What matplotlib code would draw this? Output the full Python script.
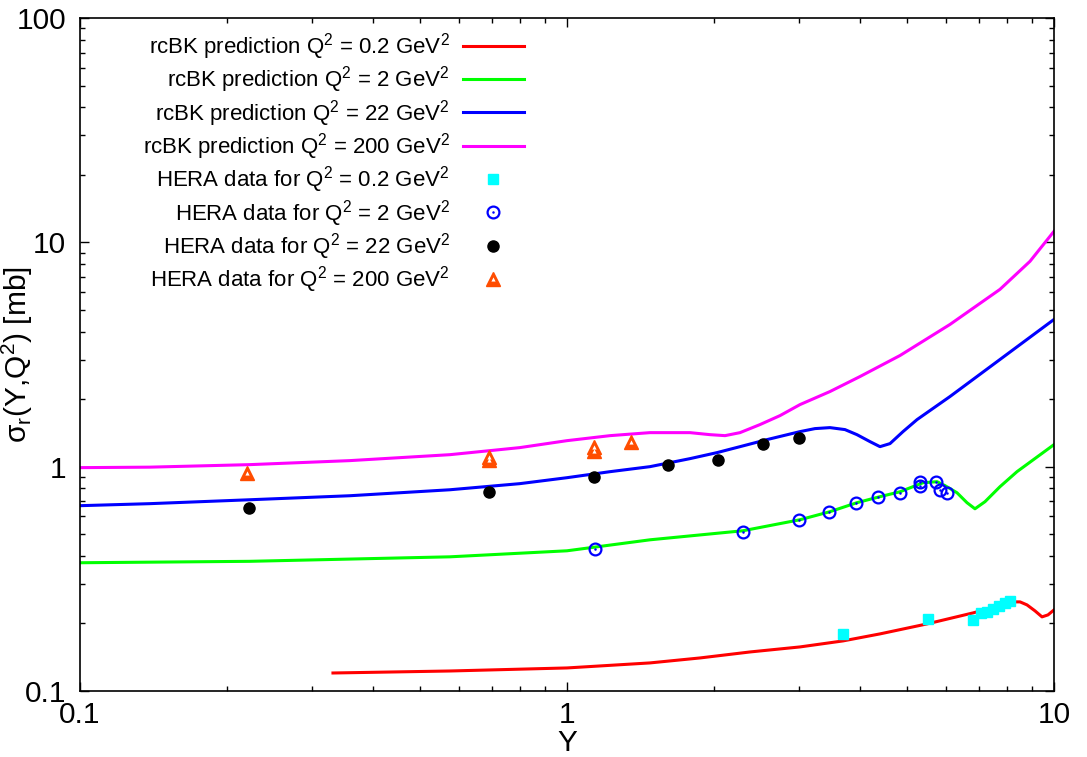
import matplotlib
matplotlib.use("Agg")
import matplotlib.pyplot as plt
from matplotlib.legend_handler import HandlerTuple

plt.rcParams['font.family'] = ['Liberation Sans', 'DejaVu Sans']
plt.rcParams['mathtext.fontset'] = 'custom'
plt.rcParams['mathtext.rm'] = 'Liberation Sans'
plt.rcParams['mathtext.it'] = 'Liberation Sans:italic'

# ---- rcBK prediction curves (Y, sigma_r in mb) ----
Y_02 = [0.3307, 0.575, 1.0, 1.48, 1.876, 2.376, 3.009, 3.687, 4.392, 5.486, 6.82, 7.566,
        8.237, 8.516, 8.802, 9.141, 9.449, 9.721, 10.0]
S_02 = [0.1203, 0.1228, 0.1267, 0.1334, 0.1404, 0.1493, 0.1572, 0.1672, 0.1797, 0.1991, 0.2229, 0.2371,
        0.2496, 0.2496, 0.2420, 0.2276, 0.2140, 0.2184, 0.2299]

Y_2 = [0.1, 0.223, 0.575, 1.0, 1.48, 2.298, 3.009, 3.467, 3.939, 4.392, 4.829, 5.383, 5.753,
       5.975, 6.322, 6.627, 6.882, 7.216, 7.745, 8.395, 10.0]
S_2 = [0.373, 0.3785, 0.3964, 0.4217, 0.472, 0.518, 0.580, 0.630, 0.691, 0.735, 0.773, 0.848, 0.857,
       0.823, 0.765, 0.691, 0.649, 0.698, 0.814, 0.950, 1.254]

Y_22 = [0.1, 0.139, 0.223, 0.358, 0.575, 0.80, 1.0, 1.226, 1.48, 1.789, 2.032, 2.266, 2.574, 3.009,
        3.230, 3.467, 3.722, 3.939, 4.190, 4.392, 4.605, 4.897, 5.233, 6.115, 7.745, 10.0]
S_22 = [0.670, 0.684, 0.712, 0.742, 0.789, 0.840, 0.893, 0.950, 1.0, 1.086, 1.155, 1.228, 1.320, 1.433,
        1.478, 1.493, 1.463, 1.389, 1.293, 1.228, 1.267, 1.433, 1.621, 2.054, 3.004, 4.532]

Y_200 = [0.1, 0.139, 0.223, 0.358, 0.575, 0.80, 1.0, 1.226, 1.48, 1.789, 1.966, 2.111, 2.266, 2.49,
         2.738, 3.009, 3.467, 3.996, 4.829, 6.115, 7.745, 8.927, 10.0]
S_200 = [0.990, 0.995, 1.021, 1.064, 1.131, 1.216, 1.306, 1.375, 1.418, 1.418, 1.389, 1.375, 1.418, 1.540,
         1.689, 1.891, 2.162, 2.522, 3.130, 4.305, 6.17, 8.23, 11.2]

# ---- HERA data ----
HY_02 = [3.69, 5.51, 6.82, 7.08, 7.29, 7.49, 7.71, 7.93, 8.12]
HS_02 = [0.180, 0.210, 0.2075, 0.223, 0.225, 0.232, 0.240, 0.247, 0.252]

HY_2 = [1.142, 2.298, 2.995, 3.45, 3.92, 4.35, 4.83, 5.31, 5.31, 5.72, 5.83, 6.03]
HS_2 = [0.430, 0.513, 0.580, 0.630, 0.691, 0.735, 0.765, 0.857, 0.823, 0.857, 0.789, 0.765]

HY_22 = [0.222, 0.692, 1.136, 1.612, 2.04, 2.53, 2.995]
HS_22 = [0.656, 0.774, 0.902, 1.021, 1.075, 1.267, 1.347]

HY_200 = [0.220, 0.692, 0.692, 1.136, 1.136, 1.353]
HS_200 = [0.940, 1.108, 1.075, 1.228, 1.179, 1.293]

labels_curves = ["rcBK prediction Q$^2$ = 0.2 GeV$^2$",
                 "rcBK prediction Q$^2$ = 2 GeV$^2$",
                 "rcBK prediction Q$^2$ = 22 GeV$^2$",
                 "rcBK prediction Q$^2$ = 200 GeV$^2$"]
labels_data = ["HERA data for Q$^2$ = 0.2 GeV$^2$",
               "HERA data for Q$^2$ = 2 GeV$^2$",
               "HERA data for Q$^2$ = 22 GeV$^2$",
               "HERA data for Q$^2$ = 200 GeV$^2$"]

fig = plt.figure(figsize=(10.87, 7.57), dpi=100)
ax = fig.add_axes([80/1087, 1-691/757, (1054-80)/1087, (691-18)/757])

lw = 2.2
l1, = ax.plot(Y_02, S_02, color='#ff0000', lw=lw)
l2, = ax.plot(Y_2, S_2, color='#00ff00', lw=lw)
l3, = ax.plot(Y_22, S_22, color='#0000ff', lw=lw)
l4, = ax.plot(Y_200, S_200, color='#ff00ff', lw=lw)

m1, = ax.plot(HY_02, HS_02, ls='none', marker='s', ms=7, color='#00ffff', mec='#00ffff')
m2a, = ax.plot(HY_2, HS_2, ls='none', marker='o', ms=8.5, mfc='none', mec='#0000ff', mew=1.6)
m2b, = ax.plot(HY_2, HS_2, ls='none', marker='o', ms=1.8, mfc='#0000ff', mec='#0000ff', mew=0)
m3, = ax.plot(HY_22, HS_22, ls='none', marker='o', ms=8, color='black')
m4a, = ax.plot(HY_200, HS_200, ls='none', marker='^', ms=9.5, color='#ff4d00', mec='#ff4d00')
m4b, = ax.plot(HY_200, HS_200, ls='none', marker='^', ms=3.0, color='white', mec='white', mew=0)

ax.set_xscale('log')
ax.set_yscale('log')
ax.set_xlim(0.1, 10)
ax.set_ylim(0.1, 100)

ax.set_xticks([0.1, 1, 10])
ax.set_xticklabels(['0.1', '1', '10'])
ax.set_yticks([0.1, 1, 10, 100])
ax.set_yticklabels(['0.1', '1', '10', '100'])

ax.tick_params(which='both', direction='in', top=True, right=True, width=1.0, color='black')
ax.tick_params(which='major', length=6.5)
ax.tick_params(which='minor', length=3.6)
ax.tick_params(axis='x', which='major', labelsize=21.5, pad=7)
ax.tick_params(axis='y', which='major', labelsize=21.5, pad=10)
for s in ax.spines.values():
    s.set_linewidth(1.2)

ax.set_xlabel('Y', fontsize=21.5, labelpad=0.5)
ax.set_ylabel('σ$_\\mathregular{r}$(Y,Q$^2$) [mb]', fontsize=21.5)
ax.yaxis.set_label_coords(-0.046, 0.5)

handles = [l1, l2, l3, l4, m1, (m2a, m2b), m3, (m4a, m4b)]
labels = labels_curves + labels_data
leg = ax.legend(handles, labels, loc='upper right', bbox_to_anchor=(0.4559, 0.9807),
                markerfirst=False, frameon=False, fontsize=16,
                handlelength=2.75, handletextpad=0.59, labelspacing=0.11,
                borderpad=0, borderaxespad=0, numpoints=1,
                handler_map={tuple: HandlerTuple(ndivide=1, pad=0)})

fig.savefig('out.png', dpi=100)
